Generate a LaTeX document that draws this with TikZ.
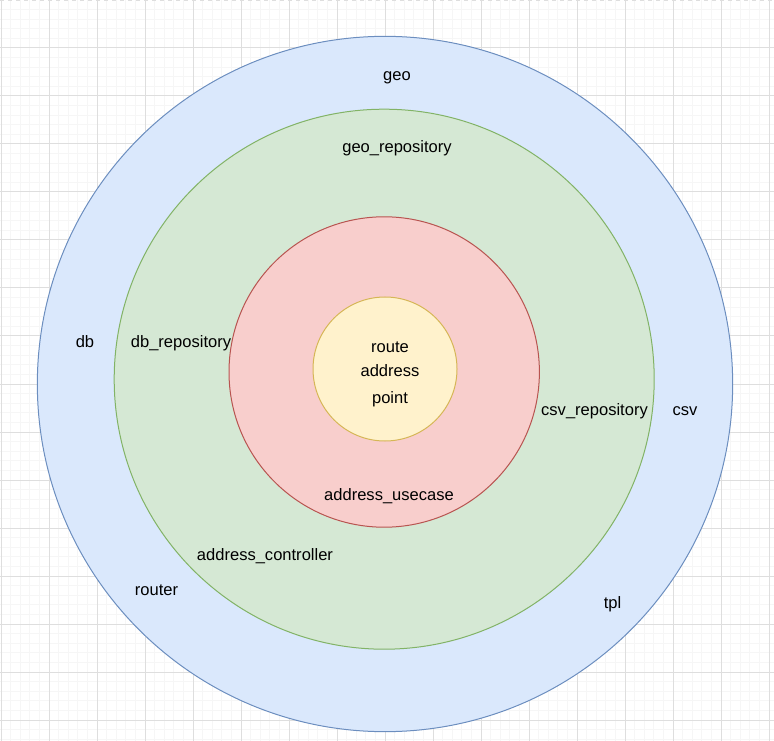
\documentclass[tikz,border=0pt]{standalone}
\usepackage{fontspec}
\setmainfont{Liberation Sans}
\definecolor{geofill}{RGB}{218,232,252}
\definecolor{geoline}{RGB}{108,142,191}
\definecolor{repofill}{RGB}{213,232,212}
\definecolor{repoline}{RGB}{130,179,102}
\definecolor{casefill}{RGB}{248,206,204}
\definecolor{caseline}{RGB}{184,84,80}
\definecolor{corefill}{RGB}{255,242,204}
\definecolor{coreline}{RGB}{214,182,86}
\definecolor{gridminor}{RGB}{246,246,246}
\definecolor{gridmajor}{RGB}{222,222,222}

\begin{document}
\begin{tikzpicture}[x=0.75pt, y=-0.75pt, font=\fontsize{12.4}{15}\selectfont,
    ring/.style={draw, circle, line width=0.75pt, inner sep=0pt},
    lbl/.style={anchor=base, inner sep=0pt}]
    \useasboundingbox (0,0) rectangle (774,741);

    % Background grid
    \foreach \i in {0,...,80} \draw[gridminor, line width=0.75pt] ({1+9.6*\i},0) -- ({1+9.6*\i},741);
    \foreach \j in {0,...,77} \draw[gridminor, line width=0.75pt] (0,{9.6*\j}) -- (774,{9.6*\j});
    \foreach \i in {0,...,16} \draw[gridmajor, line width=0.75pt] ({1+48*\i},0) -- ({1+48*\i},741);
    \foreach \j in {1,...,15} \draw[gridmajor, line width=0.75pt] (0,{48*\j}) -- (774,{48*\j});
    \draw[gridmajor, line width=0.75pt, dashed] (0,0.5) -- (774,0.5);

    % Rings, outside in
    \node[ring, draw=geoline, fill=geofill, minimum size=521.5pt] (geo) at (385,384) {};
    \node[ring, draw=repoline, fill=repofill, minimum size=405pt] (repo) at (384.2,379.2) {};
    \node[ring, draw=caseline, fill=casefill, minimum size=232.8pt] (usecase) at (384.2,372) {};
    \node[ring, draw=coreline, fill=corefill, minimum size=108pt] (core) at (385,369) {};

    % Outer ring labels
    \node[lbl] (geolbl) at (397,80.5) {geo};
    \node[lbl] (dblbl) at (85,348) {db};
    \node[lbl] (csvlbl) at (685,415.5) {csv};
    \node[lbl] (routerlbl) at (156.5,595.5) {router};
    \node[lbl] (tpllbl) at (612.5,608.5) {tpl};

    % Repository ring labels
    \node[lbl] (georepo) at (397,152.5) {geo\_repository};
    \node[lbl] (dbrepo) at (181,347.5) {db\_repository};
    \node[lbl] (csvrepo) at (594.5,415.5) {csv\_repository};
    \node[lbl] (ctrl) at (265,560) {address\_controller};

    % Use case ring label
    \node[lbl] (uselbl) at (389,500) {address\_usecase};

    % Core labels
    \node[lbl] (route) at (390,353) {route};
    \node[lbl] (address) at (390,376.7) {address};
    \node[lbl] (point) at (390,403) {point};
\end{tikzpicture}
\end{document}
